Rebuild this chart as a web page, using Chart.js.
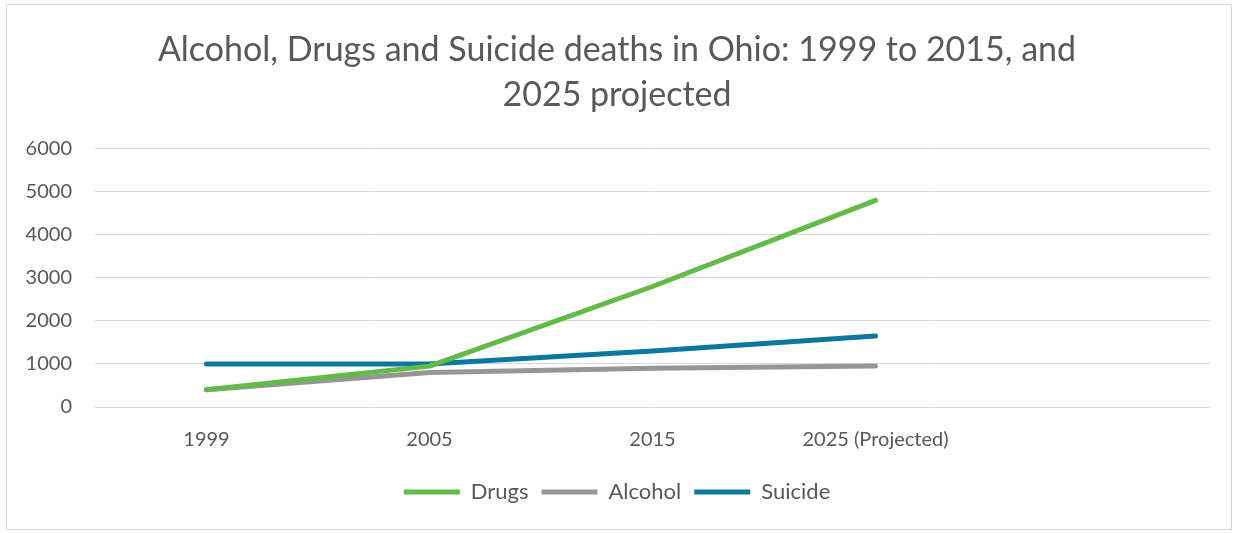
<!DOCTYPE html>
<html>
<head>
<meta charset="utf-8">
<script src="https://cdn.jsdelivr.net/npm/chart.js@4/dist/chart.umd.min.js"></script>
<style>
    html, body { margin: 0; padding: 0; background: #fff; }
    #wrap { position: relative; width: 1234px; height: 533px; }
</style>
</head>
<body>
<div id="wrap"><canvas id="deathsChart"></canvas></div>
<script>
// Chart data
const categories = ['1999', '2005', '2015', '2025 (Projected)', ''];
const drugs = [400, 950, 2800, 4800];
const alcohol = [400, 800, 900, 950];
const suicide = [1000, 1000, 1300, 1650];
const yTicks = [0, 1000, 2000, 3000, 4000, 5000, 6000];

const textColor = '#595959';
const gridColor = '#d9d9d9';
const fontFamily = 'Lato, "Open Sans", sans-serif';

// outer frame like the office chart border
const frame = {
    id: 'frame',
    beforeDraw(chart) {
        const ctx = chart.ctx;
        ctx.save();
        ctx.fillStyle = '#fff';
        ctx.fillRect(0, 0, chart.width, chart.height);
        ctx.strokeStyle = gridColor;
        ctx.lineWidth = 1;
        ctx.strokeRect(6.5, 4.5, 1225, 525);
        ctx.restore();
    }
};

function series(label, data, color) {
    return {
        label: label,
        data: data,
        borderColor: color,
        backgroundColor: color,
        borderWidth: 5,
        borderCapStyle: 'round',
        borderJoinStyle: 'round',
        pointRadius: 0,
        pointHoverRadius: 0,
        pointStyle: 'line',
        tension: 0
    };
}

new Chart(document.getElementById('deathsChart'), {
    type: 'line',
    data: {
        labels: categories,
        datasets: [
            series('Drugs', drugs, '#62bb46'),
            series('Alcohol', alcohol, '#969696'),
            series('Suicide', suicide, '#0b78a0')
        ]
    },
    options: {
        responsive: true,
        maintainAspectRatio: false,
        animation: false,
        layout: { padding: { top: 0, left: 24, right: 24, bottom: 20 } },
        plugins: {
            title: {
                display: true,
                text: ['Alcohol, Drugs and Suicide deaths in Ohio: 1999 to 2015, and', '2025 projected'],
                color: textColor,
                font: { family: fontFamily, size: 34, weight: 'normal', lineHeight: 1.32 },
                padding: { top: 27.5, bottom: 31.5 }
            },
            legend: {
                position: 'bottom',
                labels: {
                    usePointStyle: true,
                    pointStyleWidth: 56,
                    boxHeight: 22,
                    padding: 13,
                    color: textColor,
                    font: { family: fontFamily, size: 22 }
                }
            },
            tooltip: { enabled: false }
        },
        scales: {
            x: {
                offset: true,
                grid: { display: false, drawTicks: false },
                border: { display: false },
                afterFit(scale) {
                    scale.height = 61;
                },
                ticks: {
                    color: textColor,
                    padding: 21,
                    maxRotation: 0,
                    autoSkip: false,
                    font: { family: fontFamily, size: 20 }
                }
            },
            y: {
                min: yTicks[0],
                max: yTicks[yTicks.length - 1],
                afterBuildTicks(scale) {
                    scale.ticks = yTicks.map(v => ({ value: v }));
                },
                afterFit(scale) {
                    scale.width = 71;
                },
                grid: { color: gridColor, lineWidth: 1, drawTicks: false },
                border: { display: false },
                ticks: {
                    color: textColor,
                    padding: 23,
                    font: { family: fontFamily, size: 20 },
                    callback: v => String(v)
                }
            }
        }
    },
    plugins: [frame]
});
</script>
</body>
</html>
